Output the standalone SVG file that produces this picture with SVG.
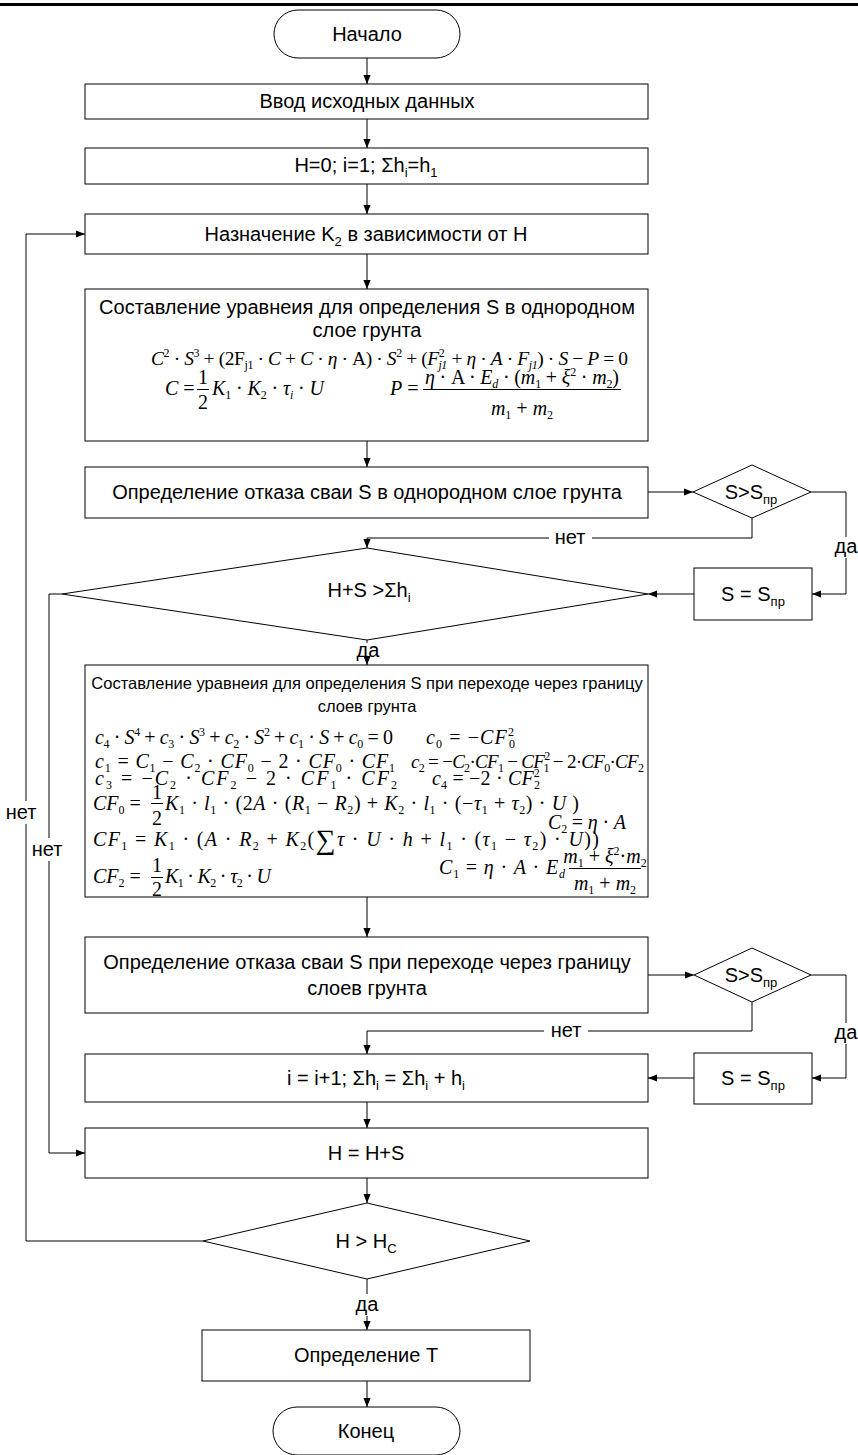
<svg xmlns="http://www.w3.org/2000/svg" width="858" height="1455" viewBox="0 0 858 1455">
<style>
.b{fill:#fff;stroke:#000;stroke-width:1}
.c{fill:none;stroke:#000;stroke-width:1}
.t{font-family:"Liberation Sans",Arial,sans-serif;font-size:20px;fill:#000;text-anchor:middle}
.t2{font-size:16.5px}
.m{font-family:"Liberation Serif","Times New Roman",serif;font-size:20px;fill:#000}
.m1{font-size:19.5px}
.i{font-style:italic}
.s{font-size:12px}
.u{font-size:13px}
.ctr{text-anchor:middle}
</style>
<defs>
<marker id="ar" viewBox="0 0 10 10" refX="10" refY="5" markerWidth="9" markerHeight="9" markerUnits="userSpaceOnUse" orient="auto"><path d="M0,1 L10,5 L0,9 z" fill="#000"/></marker>
</defs>
<rect x="0" y="3" width="858" height="3" fill="#000"/>
<g id="connectors">
<path class="c" d="M367,58 V84" marker-end="url(#ar)"/>
<path class="c" d="M367,119 V148" marker-end="url(#ar)"/>
<path class="c" d="M367,184 V214" marker-end="url(#ar)"/>
<path class="c" d="M367,254 V289" marker-end="url(#ar)"/>
<path class="c" d="M367,441 V467" marker-end="url(#ar)"/>
<path class="c" d="M648,492 H693" marker-end="url(#ar)"/>
<path class="c" d="M811,492 H846 V537"/>
<path class="c" d="M846,558 V594 H812" marker-end="url(#ar)"/>
<path class="c" d="M694,594 H648" marker-end="url(#ar)"/>
<path class="c" d="M752,518 V538 H592"/>
<path class="c" d="M549,538 H367 V548" marker-end="url(#ar)"/>
<path class="c" d="M367,640 V643"/>
<path class="c" d="M367,659 V665" marker-end="url(#ar)"/>
<path class="c" d="M62,594 H49 V838"/>
<path class="c" d="M49,861 V1153 H85" marker-end="url(#ar)"/>
<path class="c" d="M367,897 V937" marker-end="url(#ar)"/>
<path class="c" d="M648,975 H694" marker-end="url(#ar)"/>
<path class="c" d="M811,975 H846 V1023"/>
<path class="c" d="M846,1044 V1078 H812" marker-end="url(#ar)"/>
<path class="c" d="M694,1078 H648" marker-end="url(#ar)"/>
<path class="c" d="M752,1002 V1031 H588"/>
<path class="c" d="M544,1031 H367 V1054" marker-end="url(#ar)"/>
<path class="c" d="M367,1102 V1128" marker-end="url(#ar)"/>
<path class="c" d="M367,1178 V1203" marker-end="url(#ar)"/>
<path class="c" d="M203,1241 H26 V824"/>
<path class="c" d="M26,801 V234 H85" marker-end="url(#ar)"/>
<path class="c" d="M367,1279 V1294"/>
<path class="c" d="M367,1316 V1330" marker-end="url(#ar)"/>
<path class="c" d="M367,1381 V1407" marker-end="url(#ar)"/>
<text class="t" x="570" y="544">нет</text>
<text class="t" x="846" y="553">да</text>
<text class="t" x="368" y="657">да</text>
<text class="t" x="21" y="819">нет</text>
<text class="t" x="47" y="856">нет</text>
<text class="t" x="566" y="1037">нет</text>
<text class="t" x="846" y="1039">да</text>
<text class="t" x="367" y="1311">да</text>
</g>
<g id="start">
<rect class="b" x="274" y="10" width="186" height="48" rx="24" ry="24"/>
<text class="t" x="367" y="41">Начало</text>
</g>
<g id="input">
<rect class="b" x="85" y="84" width="563" height="35"/>
<text class="t" x="367" y="108">Ввод исходных данных</text>
</g>
<g id="init">
<rect class="b" x="85" y="148" width="563" height="36"/>
<text class="t" x="366" y="172">H=0; i=1; Σh<tspan class="u" dy="5">i</tspan><tspan dy="-5">=h</tspan><tspan class="u" dy="5">1</tspan></text>
</g>
<g id="assignK2">
<rect class="b" x="85" y="214" width="563" height="40"/>
<text class="t" x="366" y="241">Назначение K<tspan class="u" dy="5">2</tspan><tspan dy="-5"> в зависимости от H</tspan></text>
</g>
<g id="eq1">
<rect class="b" x="85" y="289" width="563" height="152"/>
<text class="t" x="367" y="314">Составление уравнеия для определения S в однородном</text>
<text class="t" x="367" y="337">слое грунта</text>
<text class="m m1" x="151" y="365" textLength="477" lengthAdjust="spacing"><tspan class="i">C</tspan><tspan class="s" dy="-8">2</tspan><tspan dy="8"> · </tspan><tspan class="i">S</tspan><tspan class="s" dy="-8">3</tspan><tspan dy="8"> + (2F</tspan><tspan class="s" dy="4">j1</tspan><tspan dy="-4"> · </tspan><tspan class="i">C</tspan><tspan> + </tspan><tspan class="i">C</tspan><tspan> · </tspan><tspan class="i">η</tspan><tspan> · A) · </tspan><tspan class="i">S</tspan><tspan class="s" dy="-8">2</tspan><tspan dy="8"> + (</tspan><tspan class="i">F</tspan><tspan class="s" dy="-8">2</tspan><tspan class="s i" dx="-6" dy="12">j1</tspan><tspan dy="-4"> + </tspan><tspan class="i">η</tspan><tspan> · </tspan><tspan class="i">A</tspan><tspan> · </tspan><tspan class="i">F</tspan><tspan class="s i" dy="4">j1</tspan><tspan dy="-4">) · </tspan><tspan class="i">S</tspan><tspan> − </tspan><tspan class="i">P</tspan><tspan> = 0</tspan></text>
<text class="m" x="165" y="395"><tspan class="i">C</tspan> =</text>
<text class="m ctr" x="203" y="384">1</text>
<path class="c" d="M197,389.5 H209"/>
<text class="m ctr" x="203" y="409">2</text>
<text class="m" x="212" y="395" textLength="112" lengthAdjust="spacing"><tspan class="i">K</tspan><tspan class="s" dy="4">1</tspan><tspan dy="-4"> · </tspan><tspan class="i">K</tspan><tspan class="s" dy="4">2</tspan><tspan dy="-4"> · </tspan><tspan class="i">τ</tspan><tspan class="s i" dy="4">i</tspan><tspan dy="-4"> · </tspan><tspan class="i">U</tspan></text>
<text class="m" x="390" y="395"><tspan class="i">P</tspan> =</text>
<text class="m ctr" x="522" y="384" textLength="194" lengthAdjust="spacing"><tspan class="i">η</tspan><tspan> · A · </tspan><tspan class="i">E</tspan><tspan class="s i" dy="4">d</tspan><tspan dy="-4"> · (</tspan><tspan class="i">m</tspan><tspan class="s" dy="4">1</tspan><tspan dy="-4"> + </tspan><tspan class="i">ξ</tspan><tspan class="s" dy="-8">2</tspan><tspan dy="8"> · </tspan><tspan class="i">m</tspan><tspan class="s" dy="4">2</tspan><tspan dy="-4">)</tspan></text>
<path class="c" d="M423,389.5 H621"/>
<text class="m ctr" x="522" y="415"><tspan class="i">m</tspan><tspan class="s" dy="4">1</tspan><tspan dy="-4"> + </tspan><tspan class="i">m</tspan><tspan class="s" dy="4">2</tspan></text>
</g>
<g id="failure1">
<rect class="b" x="85" y="467" width="563" height="51"/>
<text class="t" x="367" y="499">Определение отказа сваи S в однородном слое грунта</text>
</g>
<g id="check1">
<path class="b" d="M693,492 L752,465 L811,492 L752,518 Z"/>
<text class="t" x="751" y="499">S&gt;S<tspan class="u" dy="5">пр</tspan></text>
</g>
<g id="limit1">
<rect class="b" x="694" y="568" width="118" height="52"/>
<text class="t" x="753" y="601">S = S<tspan class="u" dy="5">пр</tspan></text>
</g>
<g id="boundary">
<path class="b" d="M62,594 L367,548 L648,594 L367,640 Z"/>
<text class="t" x="369" y="597">H+S &gt;Σh<tspan class="u" dy="5">i</tspan></text>
</g>
<g id="eq2">
<rect class="b" x="85" y="665" width="563" height="232"/>
<text class="t t2" x="367" y="689">Составление уравнеия для определения S при переходе через границу</text>
<text class="t t2" x="367" y="712">слоев грунта</text>
<g class="m">
<text x="95" y="744" textLength="298" lengthAdjust="spacing"><tspan class="i">c</tspan><tspan class="s" dy="4">4</tspan><tspan dy="-4"> · </tspan><tspan class="i">S</tspan><tspan class="s" dy="-8">4</tspan><tspan dy="8"> + </tspan><tspan class="i">c</tspan><tspan class="s" dy="4">3</tspan><tspan dy="-4"> · </tspan><tspan class="i">S</tspan><tspan class="s" dy="-8">3</tspan><tspan dy="8"> + </tspan><tspan class="i">c</tspan><tspan class="s" dy="4">2</tspan><tspan dy="-4"> · </tspan><tspan class="i">S</tspan><tspan class="s" dy="-8">2</tspan><tspan dy="8"> + </tspan><tspan class="i">c</tspan><tspan class="s" dy="4">1</tspan><tspan dy="-4"> · </tspan><tspan class="i">S</tspan><tspan> + </tspan><tspan class="i">c</tspan><tspan class="s" dy="4">0</tspan><tspan dy="-4"> = 0</tspan></text>
<text x="426" y="744" textLength="89" lengthAdjust="spacing"><tspan class="i">c</tspan><tspan class="s" dy="4">0</tspan><tspan dy="-4"> = −</tspan><tspan class="i">CF</tspan><tspan class="s" dy="-8">2</tspan><tspan class="s" dx="-6" dy="12">0</tspan></text>
<text x="95" y="768" textLength="300" lengthAdjust="spacing"><tspan class="i">c</tspan><tspan class="s" dy="4">1</tspan><tspan dy="-4"> = </tspan><tspan class="i">C</tspan><tspan class="s" dy="4">1</tspan><tspan dy="-4"> − </tspan><tspan class="i">C</tspan><tspan class="s" dy="4">2</tspan><tspan dy="-4"> · </tspan><tspan class="i">CF</tspan><tspan class="s" dy="4">0</tspan><tspan dy="-4"> − 2 · </tspan><tspan class="i">CF</tspan><tspan class="s" dy="4">0</tspan><tspan dy="-4"> · </tspan><tspan class="i">CF</tspan><tspan class="s" dy="4">1</tspan></text>
<text x="411" y="768" textLength="233" lengthAdjust="spacing" font-size="19"><tspan class="i">c</tspan><tspan class="s" dy="4">2</tspan><tspan dy="-4"> = −</tspan><tspan class="i">C</tspan><tspan class="s" dy="4">2</tspan><tspan dy="-4">·</tspan><tspan class="i">CF</tspan><tspan class="s" dy="4">1</tspan><tspan dy="-4"> − </tspan><tspan class="i">CF</tspan><tspan class="s" dy="-8">2</tspan><tspan class="s" dx="-6" dy="12">1</tspan><tspan dy="-4"> − 2·</tspan><tspan class="i">CF</tspan><tspan class="s" dy="4">0</tspan><tspan dy="-4">·</tspan><tspan class="i">CF</tspan><tspan class="s" dy="4">2</tspan></text>
<text x="95" y="785" textLength="302" lengthAdjust="spacing"><tspan class="i">c</tspan><tspan class="s" dy="4">3</tspan><tspan dy="-4"> = −</tspan><tspan class="i">C</tspan><tspan class="s" dy="4">2</tspan><tspan dy="-4"> · </tspan><tspan class="i">CF</tspan><tspan class="s" dy="4">2</tspan><tspan dy="-4"> − 2 · </tspan><tspan class="i">CF</tspan><tspan class="s" dy="4">1</tspan><tspan dy="-4"> · </tspan><tspan class="i">CF</tspan><tspan class="s" dy="4">2</tspan></text>
<text x="432" y="785" textLength="108" lengthAdjust="spacing"><tspan class="i">c</tspan><tspan class="s" dy="4">4</tspan><tspan dy="-4"> = −2 · </tspan><tspan class="i">CF</tspan><tspan class="s" dy="-8">2</tspan><tspan class="s" dx="-6" dy="12">2</tspan></text>
<text x="93" y="810"><tspan class="i">CF</tspan><tspan class="s" dy="4">0</tspan><tspan dy="-4"> =</tspan></text>
<text class="ctr" x="157" y="799">1</text>
<text class="ctr" x="157" y="825">2</text>
<text x="165" y="810" textLength="414" lengthAdjust="spacing"><tspan class="i">K</tspan><tspan class="s" dy="4">1</tspan><tspan dy="-4"> · </tspan><tspan class="i">l</tspan><tspan class="s" dy="4">1</tspan><tspan dy="-4"> · (2</tspan><tspan class="i">A</tspan><tspan> · (</tspan><tspan class="i">R</tspan><tspan class="s" dy="4">1</tspan><tspan dy="-4"> − </tspan><tspan class="i">R</tspan><tspan class="s" dy="4">2</tspan><tspan dy="-4">) + </tspan><tspan class="i">K</tspan><tspan class="s" dy="4">2</tspan><tspan dy="-4"> · </tspan><tspan class="i">l</tspan><tspan class="s" dy="4">1</tspan><tspan dy="-4"> · (−</tspan><tspan class="i">τ</tspan><tspan class="s" dy="4">1</tspan><tspan dy="-4"> + </tspan><tspan class="i">τ</tspan><tspan class="s" dy="4">2</tspan><tspan dy="-4">) · </tspan><tspan class="i">U</tspan><tspan> )</tspan></text>
<text x="548" y="829" textLength="78" lengthAdjust="spacing"><tspan class="i">C</tspan><tspan class="s" dy="4">2</tspan><tspan dy="-4"> = </tspan><tspan class="i">η</tspan><tspan> · </tspan><tspan class="i">A</tspan></text>
<text x="93" y="846" textLength="506" lengthAdjust="spacing"><tspan class="i">CF</tspan><tspan class="s" dy="4">1</tspan><tspan dy="-4"> = </tspan><tspan class="i">K</tspan><tspan class="s" dy="4">1</tspan><tspan dy="-4"> · (</tspan><tspan class="i">A</tspan><tspan> · </tspan><tspan class="i">R</tspan><tspan class="s" dy="4">2</tspan><tspan dy="-4"> + </tspan><tspan class="i">K</tspan><tspan class="s" dy="4">2</tspan><tspan dy="-4">(</tspan><tspan font-size="28" dy="3">∑</tspan><tspan class="i" dy="-3">τ</tspan><tspan> · </tspan><tspan class="i">U</tspan><tspan> · </tspan><tspan class="i">h</tspan><tspan> + </tspan><tspan class="i">l</tspan><tspan class="s" dy="4">1</tspan><tspan dy="-4"> · (</tspan><tspan class="i">τ</tspan><tspan class="s" dy="4">1</tspan><tspan dy="-4"> − </tspan><tspan class="i">τ</tspan><tspan class="s" dy="4">2</tspan><tspan dy="-4">) · </tspan><tspan class="i">U</tspan><tspan>))</tspan></text>
<text x="439" y="874" textLength="126" lengthAdjust="spacing"><tspan class="i">C</tspan><tspan class="s" dy="4">1</tspan><tspan dy="-4"> = </tspan><tspan class="i">η</tspan><tspan> · </tspan><tspan class="i">A</tspan><tspan> · </tspan><tspan class="i">E</tspan><tspan class="s i" dy="4">d</tspan></text>
<text class="ctr" x="605" y="863"><tspan class="i">m</tspan><tspan class="s" dy="4">1</tspan><tspan dy="-4"> + </tspan><tspan class="i">ξ</tspan><tspan class="s" dy="-8">2</tspan><tspan dy="8">·</tspan><tspan class="i">m</tspan><tspan class="s" dy="4">2</tspan></text>
<text class="ctr" x="605" y="890"><tspan class="i">m</tspan><tspan class="s" dy="4">1</tspan><tspan dy="-4"> + </tspan><tspan class="i">m</tspan><tspan class="s" dy="4">2</tspan></text>
<text x="93" y="883"><tspan class="i">CF</tspan><tspan class="s" dy="4">2</tspan><tspan dy="-4"> =</tspan></text>
<text class="ctr" x="157" y="872">1</text>
<text class="ctr" x="157" y="896">2</text>
<text x="165" y="883" textLength="106" lengthAdjust="spacing"><tspan class="i">K</tspan><tspan class="s" dy="4">1</tspan><tspan dy="-4"> · </tspan><tspan class="i">K</tspan><tspan class="s" dy="4">2</tspan><tspan dy="-4"> · </tspan><tspan class="i">τ</tspan><tspan class="s" dy="4">2</tspan><tspan dy="-4"> · </tspan><tspan class="i">U</tspan></text>
</g>
<path class="c" d="M151,803.5 H163 M151,877.5 H163 M569,868.5 H641"/>
</g>
<g id="failure2">
<rect class="b" x="85" y="937" width="563" height="76"/>
<text class="t" x="367" y="969">Определение отказа сваи S при переходе через границу</text>
<text class="t" x="367" y="995">слоев грунта</text>
</g>
<g id="check2">
<path class="b" d="M694,975 L752,948 L811,975 L752,1002 Z"/>
<text class="t" x="751" y="982">S&gt;S<tspan class="u" dy="5">пр</tspan></text>
</g>
<g id="limit2">
<rect class="b" x="694" y="1053" width="118" height="51"/>
<text class="t" x="753" y="1085">S = S<tspan class="u" dy="5">пр</tspan></text>
</g>
<g id="nextLayer">
<rect class="b" x="85" y="1054" width="563" height="48"/>
<text class="t" x="376" y="1085">i = i+1; Σh<tspan class="u" dy="5">i</tspan><tspan dy="-5"> = Σh</tspan><tspan class="u" dy="5">i</tspan><tspan dy="-5"> + h</tspan><tspan class="u" dy="5">i</tspan></text>
</g>
<g id="depth">
<rect class="b" x="85" y="1128" width="563" height="50"/>
<text class="t" x="366" y="1160">H = H+S</text>
</g>
<g id="final">
<path class="b" d="M203,1241 L367,1203 L530,1241 L367,1279 Z"/>
<text class="t" x="366" y="1248">H &gt; H<tspan class="u" dy="5">C</tspan></text>
</g>
<g id="calcT">
<rect class="b" x="202" y="1330" width="328" height="51"/>
<text class="t" x="366" y="1362">Определение T</text>
</g>
<g id="end">
<rect class="b" x="273" y="1407" width="187" height="48" rx="24" ry="24"/>
<text class="t" x="366" y="1438">Конец</text>
</g>
</svg>
